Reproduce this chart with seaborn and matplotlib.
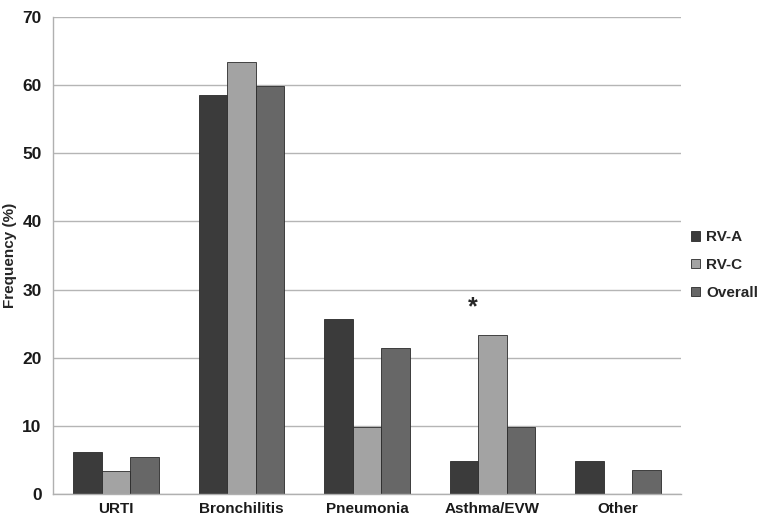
import seaborn as sns
import matplotlib.pyplot as plt
import pandas as pd

categories = ['URTI', 'Bronchilitis', 'Pneumonia', 'Asthma/EVW', 'Other']
rv_a = [6.2, 58.6, 25.7, 4.9, 4.9]
rv_c = [3.4, 63.3, 9.8, 23.3, 0.0]
overall = [5.4, 59.8, 21.5, 9.9, 3.6]
groups = ['RV-A', 'RV-C', 'Overall']
colors = ['#3b3b3b', '#a3a3a3', '#676767']

df = pd.DataFrame({
    'category': categories * 3,
    'group': [g for g in groups for _ in categories],
    'value': rv_a + rv_c + overall,
})

sns.set_style('white')
plt.rcParams['font.family'] = ['Liberation Sans', 'DejaVu Sans']

fig, ax = plt.subplots(figsize=(7.63, 5.24), dpi=100)
fig.subplots_adjust(left=0.07, right=0.892, top=0.968, bottom=0.057)

sns.barplot(data=df, x='category', y='value', hue='group', palette=colors,
            width=0.68, gap=0.0, edgecolor='#2a2a2a', linewidth=0.6, ax=ax)

ax.set_ylim(0, 70)
ax.set_xlim(-0.5, 4.5)
ax.set_yticks(range(0, 71, 10))
ax.yaxis.grid(True, color='#b5b5b5', linewidth=1)
ax.set_axisbelow(True)
for side in ['top', 'right']:
    ax.spines[side].set_visible(False)
for side in ['left', 'bottom']:
    ax.spines[side].set_color('#b0b0b0')
    ax.spines[side].set_linewidth(1)

ax.set_xticks([0.5, 1.5, 2.5, 3.5, 4.5], minor=True)
ax.tick_params(axis='x', which='major', length=0, pad=6, labelsize=11)
ax.tick_params(axis='x', which='minor', length=5, color='#b0b0b0', direction='out')
ax.tick_params(axis='y', length=5, color='#b0b0b0', labelsize=12.5)
for lab in ax.get_xticklabels() + ax.get_yticklabels():
    lab.set_fontweight('bold')
    lab.set_color('#1a1a1a')

ax.set_xlabel('')
ax.set_ylabel('Frequency (%)', fontsize=11, fontweight='bold', labelpad=4)

ax.text(2.84, 27.4, '*', ha='center', va='center', fontsize=18, fontweight='bold')

ax.legend(title=None, loc='center left', bbox_to_anchor=(0.995, 0.48), frameon=False,
          handlelength=0.6, handleheight=0.6, handletextpad=0.4, labelspacing=0.9,
          prop={'weight': 'bold', 'size': 11})

plt.savefig('out.png', dpi=100)
